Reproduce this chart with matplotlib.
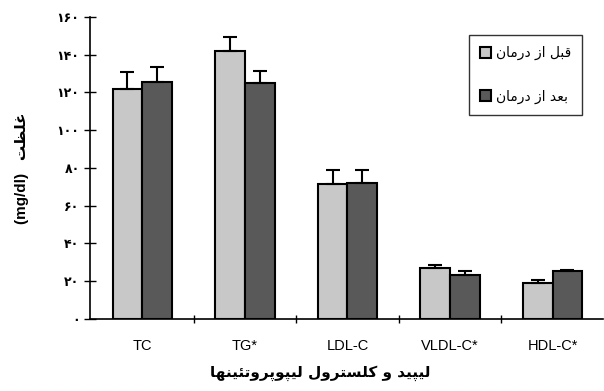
import numpy as np
import matplotlib
matplotlib.use("Agg")
import matplotlib.pyplot as plt

# ---- DATA ----
categories = ["TC", "TG*", "LDL-C", "VLDL-C*", "HDL-C*"]
before = [122, 142, 71.5, 27, 19]
before_err = [9, 7.5, 7.5, 1.5, 1.5]
after = [125.5, 125, 72, 23.5, 25.5]
after_err = [8, 6.5, 7, 1.8, 0.6]
yticks = [0, 20, 40, 60, 80, 100, 120, 140, 160]

label_before = "قبل از درمان"
label_after = "بعد از درمان"
xlabel_fa = "لیپید و کلسترول لیپوپروتئینها"
ylabel_fa = "غلظت"

# ---- minimal Persian shaping (matplotlib has no bidi / joining) ----
# letter: (isolated, final, initial, medial)
FORMS = {
    "ا": ("\uFE8D", "\uFE8E", None, None),
    "ب": ("\uFE8F", "\uFE90", "\uFE91", "\uFE92"),
    "پ": ("\uFB56", "\uFB57", "\uFB58", "\uFB59"),
    "ت": ("\uFE95", "\uFE96", "\uFE97", "\uFE98"),
    "ئ": ("\uFE89", "\uFE8A", "\uFE8B", "\uFE8C"),
    "د": ("\uFEA9", "\uFEAA", None, None),
    "ر": ("\uFEAD", "\uFEAE", None, None),
    "ز": ("\uFEAF", "\uFEB0", None, None),
    "س": ("\uFEB1", "\uFEB2", "\uFEB3", "\uFEB4"),
    "ظ": ("\uFEC5", "\uFEC6", "\uFEC7", "\uFEC8"),
    "ع": ("\uFEC9", "\uFECA", "\uFECB", "\uFECC"),
    "غ": ("\uFECD", "\uFECE", "\uFECF", "\uFED0"),
    "ق": ("\uFED5", "\uFED6", "\uFED7", "\uFED8"),
    "ک": ("\uFB8E", "\uFB8F", "\uFB90", "\uFB91"),
    "ل": ("\uFEDD", "\uFEDE", "\uFEDF", "\uFEE0"),
    "م": ("\uFEE1", "\uFEE2", "\uFEE3", "\uFEE4"),
    "ن": ("\uFEE5", "\uFEE6", "\uFEE7", "\uFEE8"),
    "ه": ("\uFEE9", "\uFEEA", "\uFEEB", "\uFEEC"),
    "و": ("\uFEED", "\uFEEE", None, None),
    "ی": ("\uFBFC", "\uFBFD", "\uFBFE", "\uFBFF"),
}


def shape(text):
    out = []
    for i, ch in enumerate(text):
        if ch not in FORMS:
            out.append(ch)
            continue
        iso, fin, ini, med = FORMS[ch]
        prev = text[i - 1] if i > 0 else ""
        nxt = text[i + 1] if i + 1 < len(text) else ""
        jp = prev in FORMS and FORMS[prev][2] is not None
        jn = ini is not None and nxt in FORMS
        if jp and jn:
            out.append(med)
        elif jp:
            out.append(fin)
        elif jn:
            out.append(ini)
        else:
            out.append(iso)
    return "".join(reversed(out))


def fa_digits(n):
    return str(n).translate(str.maketrans("0123456789", "۰۱۲۳۴۵۶۷۸۹"))


# ---- PLOT ----
fig = plt.figure(figsize=(6.04, 3.91), dpi=100)
ax = fig.add_axes([0.149, 0.184, 0.849, 0.773])

x = np.arange(len(categories))
w = 0.29
c_before = "#c8c8c8"
c_after = "#595959"

ax.bar(x - w / 2, before, w, color=c_before, edgecolor="black", linewidth=1.5,
       yerr=[np.zeros(len(before)), before_err], capsize=5,
       error_kw=dict(elinewidth=1.5, capthick=1.5), label=shape(label_before), zorder=2)
ax.bar(x + w / 2, after, w, color=c_after, edgecolor="black", linewidth=1.5,
       yerr=[np.zeros(len(after)), after_err], capsize=5,
       error_kw=dict(elinewidth=1.5, capthick=1.5), label=shape(label_after), zorder=2)

ax.set_xlim(-0.51, 4.49)
ax.set_ylim(0, 160)
ax.set_yticks(yticks)
ax.set_yticklabels([fa_digits(v) for v in yticks], fontsize=9,
                   fontfamily="DejaVu Sans", fontweight="bold")
ax.tick_params(axis="y", direction="inout", length=9, width=1, pad=3)

ax.set_xticks(x)
ax.set_xticklabels(categories, fontsize=10.5, fontfamily="Liberation Sans")
ax.set_xticks(x[:-1] + 0.5, minor=True)
ax.tick_params(axis="x", which="major", length=0, pad=14)
ax.tick_params(axis="x", which="minor", direction="inout", length=6, width=1)

for s in ["top", "right"]:
    ax.spines[s].set_visible(False)
ax.spines["left"].set_linewidth(1.2)
ax.spines["bottom"].set_linewidth(1.2)

ax.set_ylabel("(mg/dl)   " + shape(ylabel_fa), fontsize=11, fontweight="bold",
              fontfamily=["Liberation Sans", "DejaVu Sans"], labelpad=20)
fig.text(0.53, 0.035, shape(xlabel_fa), ha="center", fontsize=11,
         fontweight="bold", fontfamily="DejaVu Sans")

leg = ax.legend(loc="upper left", bbox_to_anchor=(0.739, 0.94), frameon=True,
                fancybox=False, edgecolor="black",
                prop=dict(family="DejaVu Sans", size=10),
                handlelength=0.8, handleheight=0.8, labelspacing=2.1,
                borderpad=0.8, borderaxespad=0, handletextpad=0.35)
leg.get_frame().set_linewidth(1.0)

fig.savefig("out.png", dpi=100)
